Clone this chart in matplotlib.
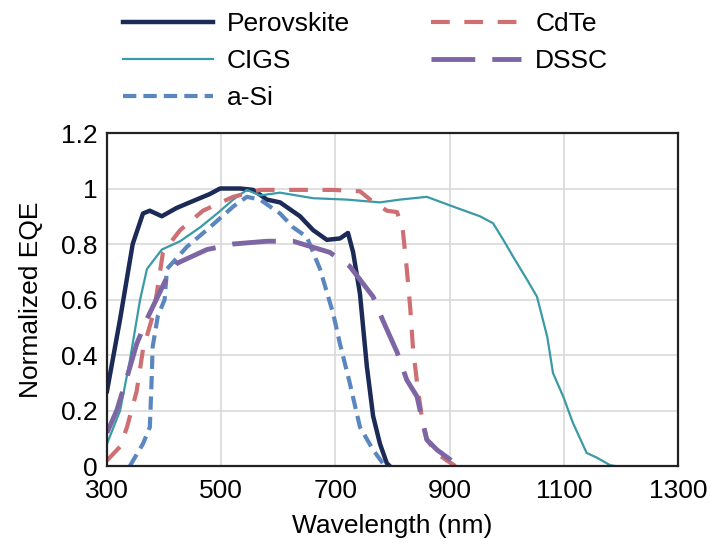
import numpy as np
import matplotlib
matplotlib.use("Agg")
import matplotlib.pyplot as plt

plt.rcParams['font.family'] = ['Liberation Sans', 'DejaVu Sans']

# wavelength (nm) / normalized EQE
pero_x = [300, 323, 345, 363, 375, 396, 422, 445, 480, 498, 533, 556, 580, 603, 638, 661, 685, 708, 722, 731, 743, 755, 766, 778, 790, 795]
pero_y = [0.27, 0.53, 0.80, 0.91, 0.92, 0.90, 0.93, 0.95, 0.98, 1.0, 1.0, 0.995, 0.96, 0.95, 0.90, 0.85, 0.815, 0.82, 0.84, 0.77, 0.62, 0.36, 0.18, 0.08, 0.01, 0.0]

cigs_x = [300, 323, 340, 358, 370, 396, 428, 463, 493, 521, 545, 568, 603, 661, 720, 778, 813, 860, 906, 953, 976, 994, 1011, 1036, 1053, 1071, 1081, 1099, 1116, 1140, 1158, 1181, 1190]
cigs_y = [0.08, 0.2, 0.38, 0.6, 0.71, 0.78, 0.81, 0.86, 0.91, 0.96, 0.995, 0.975, 0.985, 0.965, 0.96, 0.95, 0.96, 0.97, 0.935, 0.90, 0.875, 0.815, 0.755, 0.67, 0.61, 0.465, 0.335, 0.25, 0.155, 0.047, 0.03, 0.003, 0.0]

asi_x = [340, 363, 375, 378, 380, 389, 401, 405, 440, 480, 521, 545, 568, 603, 626, 650, 673, 696, 708, 725, 743, 766, 783, 790]
asi_y = [0.0, 0.08, 0.14, 0.30, 0.43, 0.54, 0.6, 0.71, 0.79, 0.86, 0.935, 0.97, 0.96, 0.91, 0.86, 0.825, 0.71, 0.55, 0.44, 0.30, 0.14, 0.058, 0.01, 0.0]

cdte_x = [300, 323, 335, 352, 363, 380, 387, 398, 428, 468, 521, 568, 626, 696, 743, 761, 790, 808, 818, 825, 831, 836, 843, 851, 860, 878, 895, 910]
cdte_y = [0.02, 0.07, 0.14, 0.27, 0.42, 0.54, 0.62, 0.77, 0.85, 0.92, 0.97, 0.995, 0.995, 0.995, 0.99, 0.96, 0.92, 0.915, 0.85, 0.71, 0.57, 0.42, 0.3, 0.18, 0.095, 0.045, 0.02, 0.0]

dssc_x = [300, 317, 335, 352, 370, 405, 422, 475, 521, 580, 626, 690, 725, 766, 783, 808, 825, 843, 853, 860, 878, 913]
dssc_y = [0.12, 0.2, 0.32, 0.44, 0.53, 0.68, 0.73, 0.78, 0.80, 0.81, 0.81, 0.77, 0.72, 0.61, 0.525, 0.41, 0.31, 0.25, 0.155, 0.095, 0.058, 0.005]

fig = plt.figure(figsize=(7.1, 5.46), dpi=100)
ax = fig.add_axes([0.1507, 0.1465, 0.8043, 0.6099])

ax.plot(pero_x, pero_y, color='#1b2a57', lw=3.2, label='Perovskite')
ax.plot(cigs_x, cigs_y, color='#3a9aa6', lw=1.6, label='CIGS')
ax.plot(asi_x, asi_y, color='#5b87c0', lw=3, ls=(0, (3.2, 1.7)), label='a-Si')
ax.plot(cdte_x, cdte_y, color='#cd6f73', lw=3, ls=(0, (4.5, 3.5)), label='CdTe')
ax.plot(dssc_x, dssc_y, color='#7d66a3', lw=3.5, ls=(0, (9, 3.5)), label='DSSC')

ax.set_xlim(300, 1300)
ax.set_ylim(0, 1.2)
ax.set_xticks([300, 500, 700, 900, 1100, 1300])
ax.set_yticks([0, 0.2, 0.4, 0.6, 0.8, 1.0, 1.2])
ax.set_yticklabels(['0', '0.2', '0.4', '0.6', '0.8', '1', '1.2'])
ax.tick_params(length=0, labelsize=19)
ax.tick_params(axis='y', pad=7)
ax.tick_params(axis='x', pad=9)
ax.grid(True, color='#d9d9d9', lw=1.2)
for s in ax.spines.values():
    s.set_linewidth(1.6)
    s.set_color('#222222')

ax.set_xlabel('Wavelength (nm)', fontsize=19, labelpad=8)
ax.set_ylabel('Normalized EQE', fontsize=19, labelpad=13)

fig.legend(*ax.get_legend_handles_labels(), ncol=2, loc='upper left',
           bbox_to_anchor=(0.173, 0.978), frameon=False,
           fontsize=19, handlelength=3.4, handletextpad=0.53, columnspacing=3.1,
           labelspacing=0.5, borderpad=0, borderaxespad=0)

fig.savefig('out.png', dpi=100)
